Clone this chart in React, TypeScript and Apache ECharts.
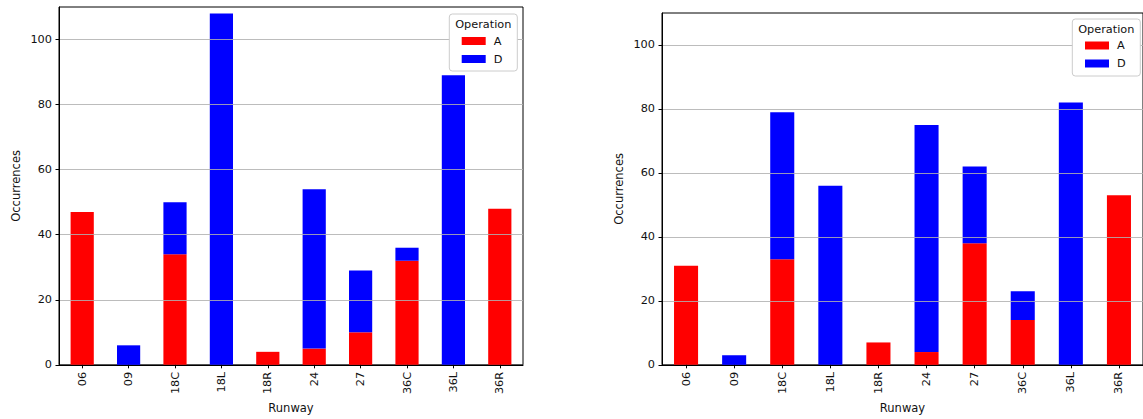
import React, { useEffect, useRef } from "react";
import * as echarts from "echarts";

// Runway operations: arrivals (A) and departures (D), two periods
const runways = ["06", "09", "18C", "18L", "18R", "24", "27", "36C", "36L", "36R"];
const arrivalsLeft = [47, 0, 34, 0, 4, 5, 10, 32, 0, 48];
const departuresLeft = [0, 6, 16, 108, 0, 49, 19, 4, 89, 0];
const arrivalsRight = [31, 0, 33, 0, 7, 4, 38, 14, 0, 53];
const departuresRight = [0, 3, 46, 56, 0, 71, 24, 9, 82, 0];
const yTicks = [0, 20, 40, 60, 80, 100];
const seriesNames = ["A", "D"];
const legendTitle = "Operation";

const FONT = "DejaVu Sans";
const TEXT = "#111";
const RED = "#ff0000";
const BLUE = "#0000ff";

const grids = [
  { left: 59, top: 7, width: 464, height: 361 },
  { left: 662, top: 13, width: 484, height: 355 },
];

function axisPair(i: number) {
  const x = {
    type: "category",
    gridIndex: i,
    data: runways,
    z: 3,
    axisLine: { show: true, lineStyle: { color: "#000", width: 1 } },
    axisTick: { show: true, alignWithLabel: true, length: 3.5, lineStyle: { color: "#000" } },
    axisLabel: { rotate: 90, margin: 7, fontSize: 11.3, color: TEXT, fontFamily: FONT },
    splitLine: { show: false },
    name: "Runway",
    nameLocation: "middle",
    nameGap: 37,
    nameTextStyle: { fontSize: 11.5, color: TEXT, fontFamily: FONT },
  };
  const y = {
    type: "value",
    gridIndex: i,
    min: 0,
    max: 110,
    interval: 20,
    z: 3,
    axisLine: { show: true, lineStyle: { color: "#000", width: 1 } },
    axisTick: { show: true, length: 3.5, lineStyle: { color: "#000" }, customValues: yTicks },
    axisLabel: {
      margin: 7,
      fontSize: 11.3,
      color: TEXT,
      fontFamily: FONT,
      customValues: yTicks,
    },
    splitLine: { show: true, lineStyle: { color: "#b0b0b0", width: 1, opacity: 0.85 } },
    name: "Occurrences",
    nameLocation: "middle",
    nameGap: 37,
    nameTextStyle: { fontSize: 11.5, color: TEXT, fontFamily: FONT },
  };
  return { x, y };
}

function legendBox(x: number, y: number) {
  return [
    {
      type: "rect",
      z: 4,
      shape: { x, y, width: 68, height: 57, r: 3 },
      style: { fill: "#fff", stroke: "#cccccc", lineWidth: 1 },
    },
    {
      type: "text",
      z: 5,
      x: x + 34,
      y: y + 10,
      style: {
        text: legendTitle,
        fontSize: 11.3,
        fontFamily: FONT,
        fill: TEXT,
        align: "center",
        verticalAlign: "middle",
      },
    },
  ];
}

function legendItems(left: number, top: number) {
  return {
    data: seriesNames,
    orient: "vertical",
    left,
    top,
    padding: 0,
    itemGap: 4,
    itemWidth: 24,
    itemHeight: 8,
    icon: "rect",
    z: 6,
    selectedMode: false,
    textStyle: {
      fontSize: 11.3,
      fontFamily: FONT,
      color: TEXT,
      lineHeight: 14,
      padding: [0, 0, 0, 3],
    },
  };
}

export default function App() {
  const ref = useRef<HTMLDivElement>(null);

  useEffect(() => {
    if (!ref.current) return;
    const chart = echarts.init(ref.current, undefined, { renderer: "svg" });
    const a0 = axisPair(0);
    const a1 = axisPair(1);
    const bar = (name: string, data: number[], idx: number, color: string) => ({
      name,
      type: "bar",
      stack: "s" + idx,
      xAxisIndex: idx,
      yAxisIndex: idx,
      data,
      barWidth: "50%",
      itemStyle: { color },
    });
    chart.setOption({
      animation: false,
      textStyle: { fontFamily: FONT },
      grid: grids.map((g) => ({
        ...g,
        show: true,
        borderColor: "#000",
        borderWidth: 1,
        containLabel: false,
      })),
      xAxis: [a0.x, a1.x],
      yAxis: [a0.y, a1.y],
      legend: [legendItems(461.7, 34), legendItems(1085, 38.5)],
      graphic: [...legendBox(449.3, 14), ...legendBox(1072.3, 19)],
      series: [
        bar(seriesNames[0], arrivalsLeft, 0, RED),
        bar(seriesNames[1], departuresLeft, 0, BLUE),
        bar(seriesNames[0], arrivalsRight, 1, RED),
        bar(seriesNames[1], departuresRight, 1, BLUE),
      ],
    });
    return () => chart.dispose();
  }, []);

  return (
    <div
      ref={ref}
      style={{ position: "fixed", left: 0, top: 0, width: 1143, height: 419, background: "#fff" }}
    />
  );
}
